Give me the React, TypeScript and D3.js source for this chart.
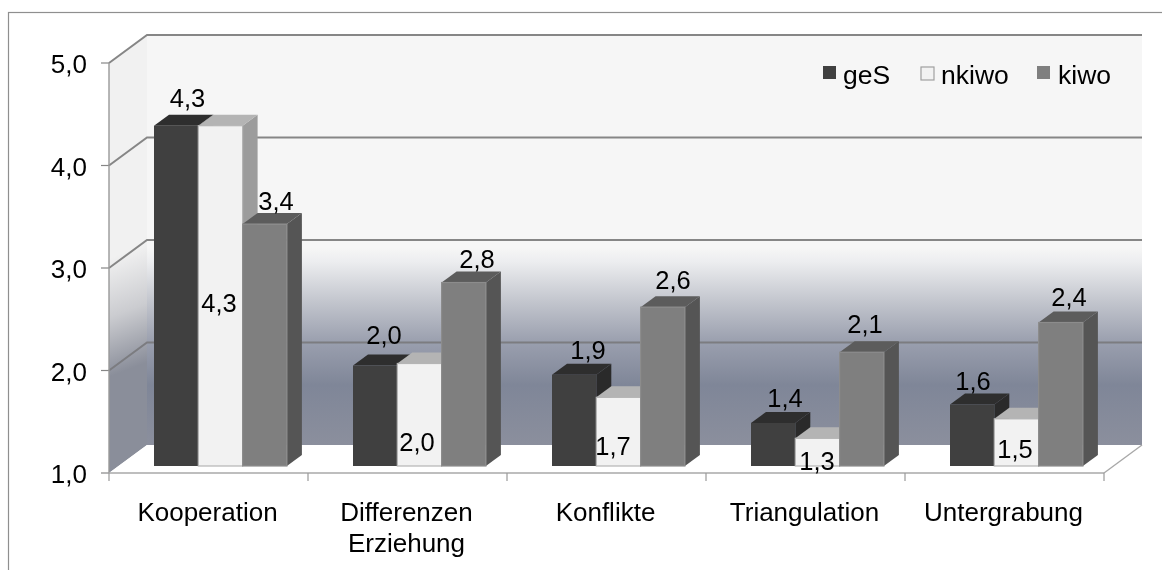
import React from 'react';
import * as d3 from 'd3';

const categories = [['Kooperation'], ['Differenzen', 'Erziehung'], ['Konflikte'], ['Triangulation'], ['Untergrabung']];
const categoryKeys = ['Kooperation', 'Differenzen', 'Konflikte', 'Triangulation', 'Untergrabung'];
const seriesNames = ['geS', 'nkiwo', 'kiwo'];
const geS = [4.32, 1.98, 1.89, 1.42, 1.6];
const nkiwo = [4.32, 2.0, 1.67, 1.27, 1.46];
const kiwo = [3.36, 2.79, 2.55, 2.11, 2.4];
const geSLabels = ['4,3', '2,0', '1,9', '1,4', '1,6'];
const nkiwoLabels = ['4,3', '2,0', '1,7', '1,3', '1,5'];
const kiwoLabels = ['3,4', '2,8', '2,6', '2,1', '2,4'];
const yTicks = [1, 2, 3, 4, 5];

// label placement relative to each bar's left edge and top
const labelDx = [[33.5, 31, 36, 34, 23], [20.7, 19.7, 16.7, 21.7, 20.7], [33.4, 35.4, 32.4, 25.4, 30.4]];
const labelDy = [[-19, -22, -16, -16, -14.5], [186, 87.5, 57.7, 31.7, 39.6], [-14, -14.5, -18, -19, -17]];

const FONT = '"Liberation Sans", Arial, sans-serif';
const GRID = '#868686';
const DX = 38, DY = -28;
const BDX = 15, BDY = -11;

const y = d3.scaleLinear().domain([1, 5]).range([473, 63]);
const x0 = d3.scaleBand<string>().domain(categoryKeys).range([109, 1104]);
const barBase = 466;
const barY = (v: number) => y(v) - (473 - barBase);
const barW = 44.3;
const groupOffset = 45;

const pal = [
  { front: '#404040', top: '#2e2e2e', side: '#2c2c2c', stroke: 'none' },
  { front: '#f2f2f2', top: '#b4b4b4', side: '#9c9c9c', stroke: '#b5b5b5' },
  { front: '#7f7f7f', top: '#5c5c5c', side: '#555555', stroke: '#8c8c8c' },
];
const series = [geS, nkiwo, kiwo];
const seriesLabels = [geSLabels, nkiwoLabels, kiwoLabels];

const poly = (pts: number[][]) => pts.map(p => p.join(',')).join(' ');

export default function App() {
  const xL = 109, xR = 1104;
  const y1 = y(1), y5 = y(5);
  const wall = (py: number) => (py - (y5 + DY)) / (y1 - y5);
  return (
    <svg width={1162} height={570} style={{ position: 'absolute', left: 0, top: 0, display: 'block' }}>
      <defs>
        <linearGradient id="wall" gradientUnits="userSpaceOnUse" x1="0" y1={y5 + DY} x2="0" y2={y1 + DY}>
          <stop offset="0" stopColor="#f6f6f6" />
          <stop offset={wall(248)} stopColor="#f6f6f6" />
          <stop offset={wall(262)} stopColor="#ecedef" />
          <stop offset={wall(302)} stopColor="#c2c5cd" />
          <stop offset={wall(342)} stopColor="#9a9fae" />
          <stop offset={wall(385)} stopColor="#7f8698" />
          <stop offset="1" stopColor="#8b8f9d" />
        </linearGradient>
        <linearGradient id="leftWall" gradientUnits="userSpaceOnUse" x1="100" y1="262" x2="140" y2="365">
          <stop offset="0" stopColor="#f1f1f1" />
          <stop offset="0.5" stopColor="#cbccd0" />
          <stop offset="1" stopColor="#8a8e9a" />
        </linearGradient>
        <filter id="soft" x="-5%" y="-5%" width="110%" height="110%">
          <feGaussianBlur stdDeviation="0.5" />
        </filter>
      </defs>

      <rect x={8.5} y={12.5} width={1160} height={570} fill="#fff" stroke="#8f8f8f" strokeWidth={1.2} />

      <g filter="url(#soft)">
        {/* walls */}
        <polygon points={poly([[xL + DX, y5 + DY], [xR + DX, y5 + DY], [xR + DX, y1 + DY], [xL + DX, y1 + DY]])} fill="url(#wall)" />
        <polygon points={poly([[xL, y5], [xL + DX, y5 + DY], [xL + DX, y1 + DY], [xL, y1]])} fill="url(#leftWall)" />
        {/* floor */}
        <polygon points={poly([[xL, y1], [xL + DX, y1 + DY], [xR + DX, y1 + DY], [xR, y1]])} fill="#ffffff" />

        {/* gridlines */}
        {yTicks.map(t => (
          <g key={t}>
            {t > 1 && (
              <polyline fill="none" stroke={t <= 2 ? '#7b7c80' : GRID} strokeWidth={2}
                points={poly([[xL, y(t)], [xL + DX, y(t) + DY], [xR + DX, y(t) + DY]])} />
            )}
            <line x1={xL - 8} x2={xL} y1={y(t)} y2={y(t)} stroke={GRID} strokeWidth={1.2} />
          </g>
        ))}
        <polyline fill="none" stroke="#a8a8a8" strokeWidth={1.4}
          points={poly([[xR, y1], [xR + DX, y1 + DY]])} />
        {/* axes */}
        <line x1={xL} x2={xL} y1={y5} y2={y1} stroke="#999" strokeWidth={1.4} />
        <line x1={xL} x2={xR} y1={y1} y2={y1} stroke="#a8a8a8" strokeWidth={1.6} />
        {[...categoryKeys.map(c => x0(c)!), xR].map((tx, i) => (
          <line key={i} x1={tx} x2={tx} y1={y1} y2={y1 + 8} stroke="#999" strokeWidth={1.2} />
        ))}

        {/* bars */}
        {categoryKeys.map((c, ci) => series.map((s, si) => {
          const xb = x0(c)! + groupOffset + si * barW;
          const top = barY(s[ci]);
          const p = pal[si];
          return (
            <g key={c + si}>
              <polygon points={poly([[xb + barW, top], [xb + barW + BDX, top + BDY], [xb + barW + BDX, barBase + BDY], [xb + barW, barBase]])} fill={p.side} />
              <polygon points={poly([[xb, top], [xb + BDX, top + BDY], [xb + barW + BDX, top + BDY], [xb + barW, top]])} fill={p.top} />
              <rect x={xb} y={top} width={barW} height={barBase - top} fill={p.front} stroke={p.stroke} strokeWidth={1.2} />
            </g>
          );
        }))}
      </g>

      <g filter="url(#soft)" fontFamily={FONT} fill="#000">
        {/* y tick labels */}
        {yTicks.map(t => (
          <text key={t} x={87} y={y(t) + 10} fontSize={26} textAnchor="end">{t.toFixed(1).replace('.', ',')}</text>
        ))}
        {/* category labels */}
        {categories.map((lines, i) => (
          <text key={i} fontSize={26} textAnchor="middle" y={521}>
            {lines.map((l, j) => <tspan key={j} x={x0(categoryKeys[i])! + x0.bandwidth() / 2 - 1} dy={j === 0 ? 0 : 31}>{l}</tspan>)}
          </text>
        ))}
        {/* data labels */}
        {categoryKeys.map((c, ci) => series.map((s, si) => (
          <text key={c + si} fontSize={25.5} textAnchor="middle"
            x={x0(c)! + groupOffset + si * barW + labelDx[si][ci]}
            y={barY(s[ci]) + labelDy[si][ci]}>{seriesLabels[si][ci]}</text>
        )))}
        {/* legend */}
        <g fontSize={26.5}>
          <rect x={823} y={66} width={13} height={13} fill={pal[0].front} />
          <text x={843} y={83.5}>{seriesNames[0]}</text>
          <rect x={921} y={67} width={13} height={13} fill={pal[1].front} stroke="#a0a0a0" strokeWidth={1.2} />
          <text x={941} y={83.5}>{seriesNames[1]}</text>
          <rect x={1037} y={66} width={13} height={13} fill={pal[2].front} />
          <text x={1058} y={83.5}>{seriesNames[2]}</text>
        </g>
      </g>
    </svg>
  );
}
